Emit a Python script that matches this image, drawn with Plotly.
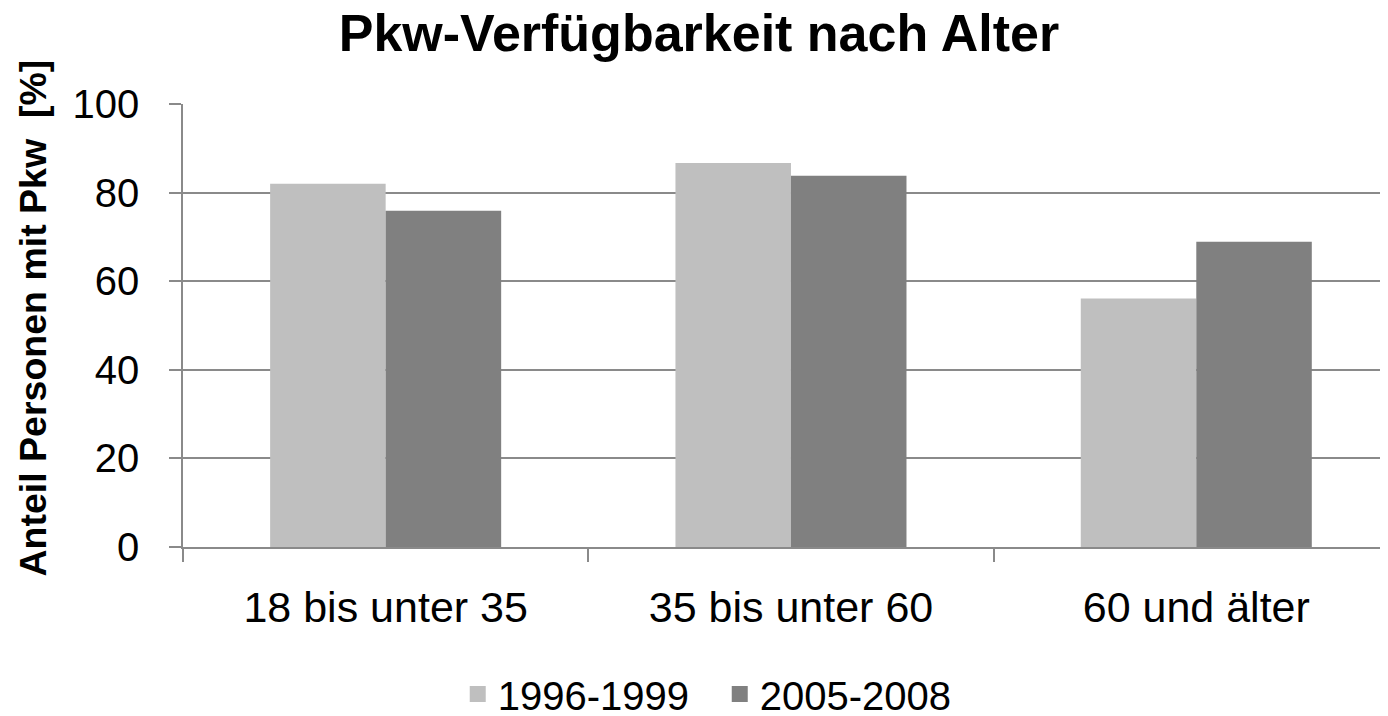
import plotly.graph_objects as go

categories = ["18 bis unter 35", "35 bis unter 60", "60 und älter"]
series_names = ["1996-1999", "2005-2008"]
values_1996_1999 = [82.0, 86.7, 56.1]
values_2005_2008 = [75.9, 83.8, 68.9]
y_ticks = [0, 20, 40, 60, 80, 100]
colors = ["#bfbfbf", "#808080"]

FONT = "Liberation Sans, Arial, sans-serif"
GRID = "#8a8a8a"

# page body has an 8px margin; figure sized so it ends at the window edge
W, H = 1380, 708

fig = go.Figure()
for name, vals, col in zip(series_names, [values_1996_1999, values_2005_2008], colors):
    fig.add_trace(go.Bar(x=categories, y=vals, name=name, showlegend=False,
                         marker=dict(color=col, line=dict(width=0))))
# legend entries with larger square symbols
for name, col in zip(series_names, colors):
    fig.add_trace(go.Scatter(x=[None], y=[None], mode="markers", name=name,
                             marker=dict(symbol="square", size=20, color=col)))

fig.update_layout(
    width=W, height=H,
    paper_bgcolor="white", plot_bgcolor="white",
    margin=dict(l=175, r=0, t=96, b=169, autoexpand=False),
    barmode="group", bargap=0.43, bargroupgap=0,
    font=dict(family=FONT, color="black"),
    title=dict(text="<b>Pkw-Verfügbarkeit nach Alter</b>", x=0.5007, xanchor="center",
               y=1 - 25 / H, yanchor="middle", yref="container",
               font=dict(size=52, family=FONT, color="black")),
    legend=dict(orientation="h", x=0.228, xanchor="left", y=-0.332, yanchor="middle",
                font=dict(size=40, family=FONT, color="black"),
                itemsizing="trace", traceorder="normal", tracegroupgap=0,
                entrywidth=217, entrywidthmode="pixels"),
    showlegend=True,
)
fig.update_xaxes(
    range=[-0.5, 2.473], showline=True, linecolor=GRID, linewidth=1.5,
    ticks="outside", ticklen=13, tickcolor=GRID, tickwidth=1.5, tickson="boundaries",
    tickfont=dict(size=43, family=FONT, color="black"), ticklabelstandoff=22,
    showgrid=False, automargin=False,
)
fig.update_yaxes(
    range=[0, 100], tickvals=y_ticks, showline=True, linecolor=GRID, linewidth=1.5,
    ticks="outside", ticklen=12, tickcolor=GRID, tickwidth=1.5,
    showgrid=True, gridcolor=GRID, gridwidth=1.5, zeroline=False,
    tickfont=dict(size=40, family=FONT, color="black"), ticklabelstandoff=22,
    automargin=False,
)
fig.add_annotation(
    text="<b>Anteil Personen mit Pkw  [%]</b>", textangle=-90,
    xref="paper", yref="paper", x=-0.1245, y=0.518, xanchor="center", yanchor="middle",
    showarrow=False, font=dict(size=37.5, family=FONT, color="black"),
)

fig.write_html("out.html")
